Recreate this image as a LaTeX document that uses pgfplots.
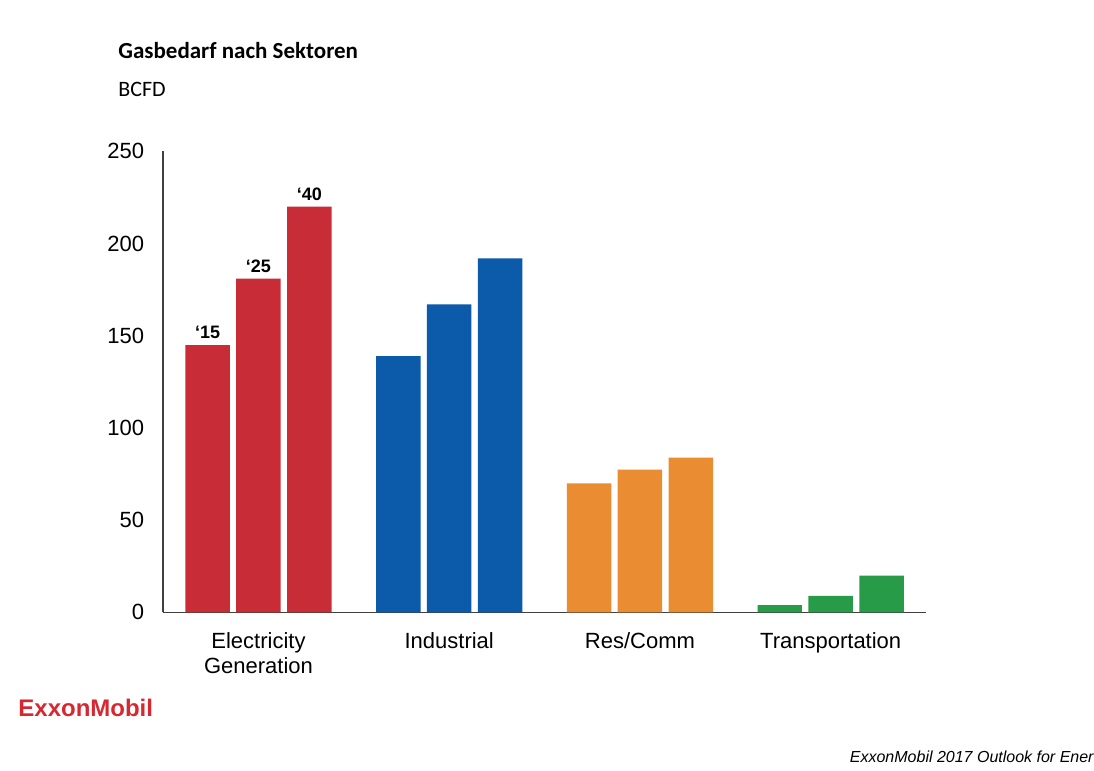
\documentclass[border=0pt]{standalone}
\usepackage{fontspec}
\setmainfont{Liberation Sans}
\newfontfamily\carlito{Carlito}
\usepackage{pgfplots}
\pgfplotsset{compat=1.18}
\definecolor{cred}{RGB}{200,45,55}
\definecolor{cblue}{RGB}{12,90,170}
\definecolor{corange}{RGB}{234,140,50}
\definecolor{cgreen}{RGB}{40,155,72}
\definecolor{exxred}{RGB}{215,40,50}
\begin{document}
\begin{tikzpicture}[x=1pt,y=1pt]
\path[use as bounding box, fill=white] (0,0) rectangle (547,385.5);
\node[anchor=base west, font=\carlito\bfseries\fontsize{11.5}{13}\selectfont, inner sep=0pt] at (59,356) {Gasbedarf nach Sektoren};
\node[anchor=base west, font=\carlito\fontsize{11}{13}\selectfont, inner sep=0pt] at (59,337) {BCFD};
\begin{axis}[
  at={(85.5,86)}, anchor=south west,
  scale only axis, width=381.5pt, height=230.5pt,
  xmin=-0.5, xmax=3.5, ymin=0, ymax=250,
  axis x line*=bottom, axis y line*=left,
  axis line style={draw=black!75, line width=0.8pt},
  xtick={0,1,2,3},
  xticklabels={{Electricity\\Generation}, Industrial, Res/Comm, Transportation},
  xticklabel style={align=center, font=\fontsize{11}{12.5}\selectfont, yshift=-6.5pt},
  ytick={0,50,...,250},
  yticklabel style={font=\fontsize{11}{13}\selectfont, xshift=-6pt},
  major tick length=0pt,
  /pgf/number format/assume math mode=true,
  ybar, bar width=0.233, bar shift=0pt,
  clip=false,
]
\addplot[fill=cred, draw=none, nodes near coords, point meta=explicit symbolic,
  every node near coord/.append style={font=\bfseries\fontsize{9}{10}\selectfont, anchor=south, inner sep=3pt}]
  coordinates {(-0.267,145) [‘15] (0,181) [‘25] (0.267,220) [‘40]};
\addplot[fill=cblue, draw=none] coordinates {(0.733,139) (1,167) (1.267,192)};
\addplot[fill=corange, draw=none] coordinates {(1.733,70) (2,77.5) (2.267,84)};
\addplot[fill=cgreen, draw=none] coordinates {(2.733,4) (3,9) (3.267,20)};
\end{axis}
\node[anchor=west, text=exxred, font=\bfseries\fontsize{12}{14}\selectfont, inner sep=0pt] at (9,31.5) {ExxonMobil};
\node[anchor=east, font=\itshape\fontsize{8}{9}\selectfont, inner sep=0pt] at (547,7) {ExxonMobil 2017 Outlook for Ener};
\end{tikzpicture}
\end{document}
